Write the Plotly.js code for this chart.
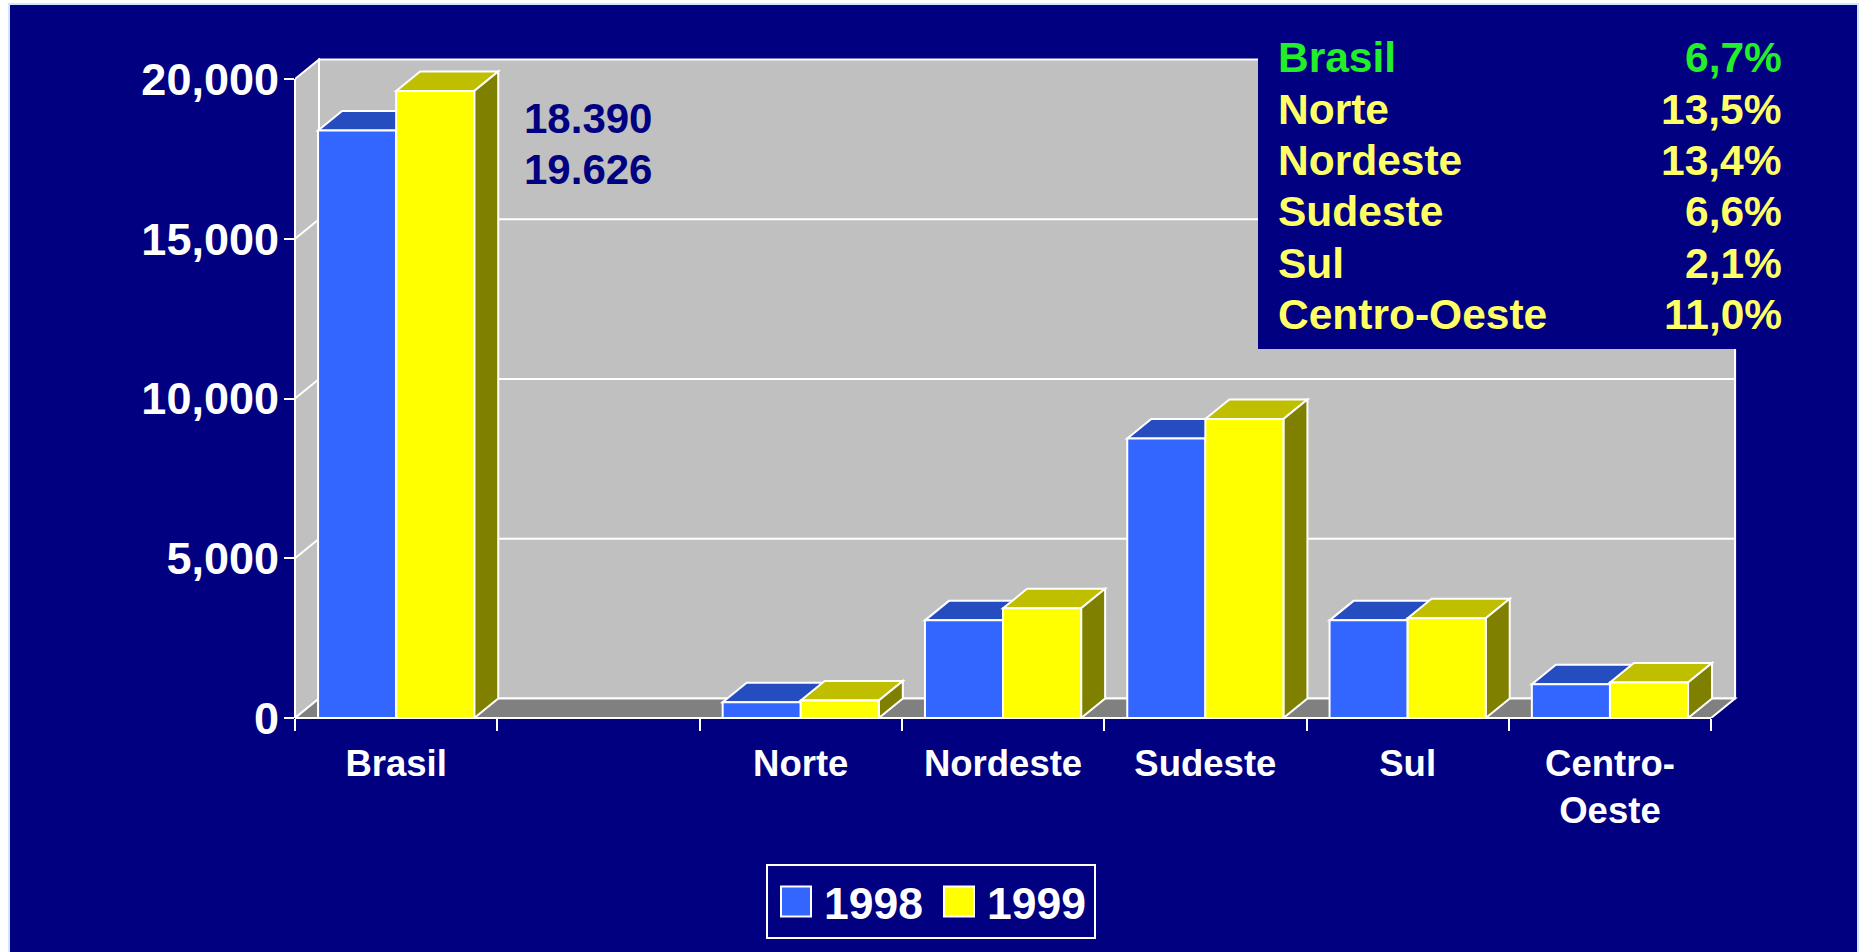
<!DOCTYPE html>
<html>
<head>
<meta charset="utf-8">
<script src="https://cdn.plot.ly/plotly-3.0.1.min.js"></script>
<style>html,body{margin:0;padding:0;background:#fff;overflow:hidden}#chart{width:1864px;height:952px}</style>
</head>
<body>
<div id="chart"></div>
<script>
const categories = ["Brasil", " ", "Norte", "Nordeste", "Sudeste", "Sul", "Centro-<br>Oeste"];
const v1998 = [18390, null, 495, 3056, 8750, 3056, 1060];
const v1999 = [19626, null, 550, 3433, 9357, 3120, 1113];
const yTicks = [0, 5000, 10000, 15000, 20000];
const noteLines = ["18.390", "19.626"];
const tableNames = ["Brasil", "Norte", "Nordeste", "Sudeste", "Sul", "Centro-Oeste"];
const tableRates = ["6,7%", "13,5%", "13,4%", "6,6%", "2,1%", "11,0%"];
const tableColors = ["#22EE2A", "#FFFF66", "#FFFF66", "#FFFF66", "#FFFF66", "#FFFF66"];

const W = 1864, H = 952;
const M = {l: 295, r: 126, t: 58, b: 234};
const plotW = W - M.l - M.r, plotH = H - M.t - M.b;
const pxPerCat = 202.3, pxPerVal = 639 / 20000;
const depthX = 24 / pxPerCat, depthY = 19.5 / pxPerVal;
const xRange = [-0.5, -0.5 + plotW / pxPerCat];
const yRange = [0, plotH / pxPerVal];
const bargap = 0.228, barW = (1 - bargap) / 2;
const px = p => (p - M.l) / plotW;
const py = p => (H - M.b - p) / plotH;

const NAVY = "#000080", WHITE = "#FFFFFF", BLUE = "#3366FF", YEL = "#FFFF00";
const FONT = "Liberation Sans, Arial, sans-serif";
const edge = {color: WHITE, width: 2};

function poly(pts, fill) {
  const path = pts.map((p, i) => (i ? "L" : "M") + p[0].toFixed(4) + "," + p[1].toFixed(2)).join(" ") + " Z";
  return {type: "path", xref: "x", yref: "y", layer: "below", path, fillcolor: fill, line: edge};
}
function seg(x0, y0, x1, y1) {
  return {type: "line", xref: "x", yref: "y", layer: "below", x0, y0, x1, y1, line: edge};
}

const xL = -0.5, xR = 6.5, yMax = 20000;
const shapes = [
  {type: "rect", xref: "paper", yref: "paper", layer: "below", x0: px(8), x1: px(1859), y0: py(3), y1: py(952),
   fillcolor: "#CFE6FB", line: {width: 0}},
  {type: "rect", xref: "paper", yref: "paper", layer: "below", x0: px(10), x1: px(1857), y0: py(5), y1: py(952),
   fillcolor: NAVY, line: {width: 0}},
  poly([[xL + depthX, depthY], [xR + depthX, depthY], [xR + depthX, yMax + depthY], [xL + depthX, yMax + depthY]], "#C0C0C0"),
  poly([[xL, 0], [xL + depthX, depthY], [xL + depthX, yMax + depthY], [xL, yMax]], "#C0C0C0"),
  poly([[xL, 0], [xR, 0], [xR + depthX, depthY], [xL + depthX, depthY]], "#808080")
];
yTicks.slice(1, -1).forEach(v => {
  shapes.push(seg(xL, v, xL + depthX, v + depthY));
  shapes.push(seg(xL + depthX, v + depthY, xR + depthX, v + depthY));
});
function topFace(x0, x1, v, fill) {
  return poly([[x0, v], [x1, v], [x1 + depthX, v + depthY], [x0 + depthX, v + depthY]], fill);
}
categories.forEach((c, i) => {
  if (v1998[i] === null) return;
  shapes.push(topFace(i - barW, i, v1998[i], "#264DBF"));
  shapes.push(topFace(i, i + barW, v1999[i], "#BFBF00"));
  shapes.push(poly([[i + barW, 0], [i + barW + depthX, depthY], [i + barW + depthX, v1999[i] + depthY], [i + barW, v1999[i]]], "#808000"));
});
shapes.push({type: "line", xref: "paper", yref: "y", layer: "above", x0: 0, x1: 0, y0: 0, y1: yMax, line: edge});
shapes.push({type: "line", xref: "x", yref: "paper", layer: "above", x0: xL, x1: xR, y0: 0, y1: 0, line: edge});
shapes.push({type: "rect", xref: "paper", yref: "paper", layer: "above", x0: px(1258), x1: px(1857), y0: py(5), y1: py(349),
  fillcolor: NAVY, line: {width: 0}});

const annotations = [];
function label(text, xp, yp, anchor, size, color) {
  annotations.push({text, xref: "paper", yref: "paper", x: px(xp), y: py(yp), xanchor: anchor, yanchor: "middle",
    showarrow: false, borderpad: 0, font: {family: FONT, size, color, weight: 700}});
}
const rowY = [57, 109.3, 160.7, 211.7, 263.3, 314.3];
tableNames.forEach((n, i) => {
  label(n, 1277, rowY[i], "left", 42.5, tableColors[i]);
  label(tableRates[i], 1783, rowY[i], "right", 42.5, tableColors[i]);
});
label(noteLines[0], 523, 118, "left", 42, NAVY);
label(noteLines[1], 523, 169, "left", 42, NAVY);

const traces = [
  {type: "bar", name: "1998", x: categories, y: v1998, marker: {color: BLUE, line: edge}},
  {type: "bar", name: "1999", x: categories, y: v1999, marker: {color: YEL, line: edge}}
];
const layout = {
  width: W, height: H, autosize: false,
  margin: {l: M.l, r: M.r, t: M.t, b: M.b, pad: 0},
  paper_bgcolor: WHITE, plot_bgcolor: "rgba(0,0,0,0)",
  font: {family: FONT, color: WHITE},
  barmode: "group", bargap, bargroupgap: 0,
  showlegend: true,
  legend: {orientation: "h", x: px(766), y: py(864), xanchor: "left", yanchor: "top",
    bgcolor: NAVY, bordercolor: WHITE, borderwidth: 2, itemwidth: 46,
    entrywidth: 102, entrywidthmode: "pixels",
    font: {family: FONT, size: 44.5, color: WHITE, weight: 700}, itemclick: false, itemdoubleclick: false},
  xaxis: {type: "category", categoryorder: "array", categoryarray: categories, range: xRange,
    tickson: "boundaries", ticks: "outside", ticklen: 12, tickwidth: 2, tickcolor: WHITE,
    showgrid: false, zeroline: false, showline: false, tickangle: 0, ticklabelstandoff: 20,
    tickfont: {family: FONT, size: 36.5, color: WHITE, weight: 700}, fixedrange: true},
  yaxis: {range: yRange, tickmode: "array", tickvals: yTicks, tickformat: ",d",
    ticks: "outside", ticklen: 10, tickwidth: 2, tickcolor: WHITE,
    showgrid: false, zeroline: false, showline: false, ticklabelstandoff: -4,
    tickfont: {family: FONT, size: 45, color: WHITE, weight: 700}, fixedrange: true},
  shapes, annotations
};
function enlargeSwatches() {
  document.querySelectorAll(".legend .legendbar path, .legend .legendpoints path").forEach(p => {
    p.setAttribute("d", "M15,15H-15V-15H15Z");
  });
}
const gd = document.getElementById("chart");
Plotly.newPlot(gd, traces, layout, {displayModeBar: false, responsive: false}).then(() => {
  enlargeSwatches();
  gd.on("plotly_afterplot", enlargeSwatches);
});
</script>
</body>
</html>
